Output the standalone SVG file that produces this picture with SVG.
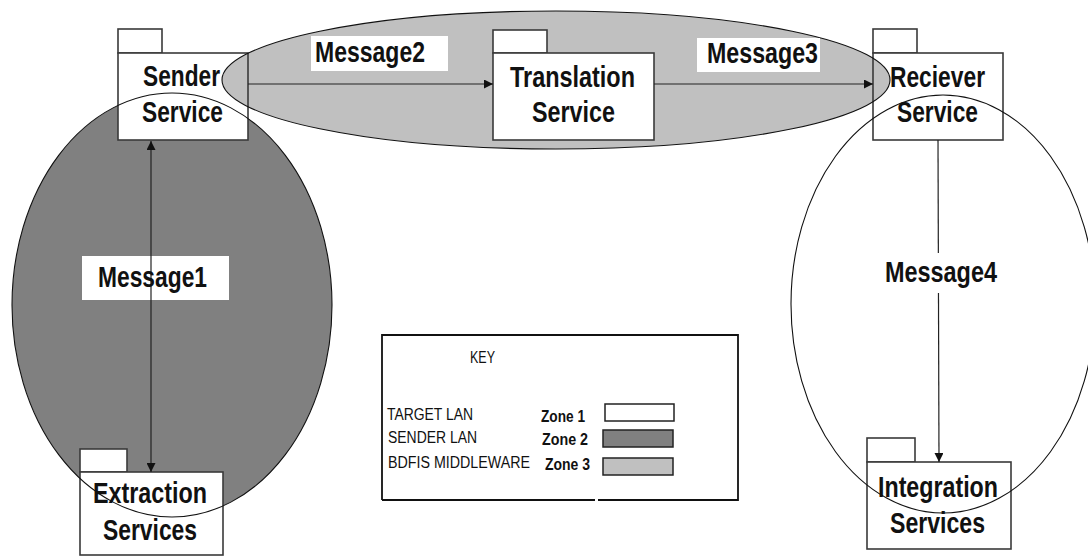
<svg xmlns="http://www.w3.org/2000/svg" width="1088" height="556" viewBox="0 0 1088 556">
  <style>
    .label { font-family: "Liberation Sans", Arial, sans-serif; font-weight: bold; font-size: 30px; fill: #111; }
    .keytext { font-family: "Liberation Sans", Arial, sans-serif; font-size: 16px; fill: #111; }
    .keybold { font-family: "Liberation Sans", Arial, sans-serif; font-weight: bold; font-size: 16px; fill: #111; }
    .box { fill: none; stroke: #3a3a3a; stroke-width: 1.6; }
    .boxfill { fill: #fff; stroke: none; }
    .tab { fill: #fff; stroke: #3a3a3a; stroke-width: 1.6; }
    .zone-line { fill: none; stroke: #111; stroke-width: 1.1; }
    .conn { fill: none; stroke: #222; stroke-width: 1.2; }
    .tagbg { fill: #fff; stroke: none; }
  </style>
  <defs>
    <marker id="arrow" viewBox="0 0 10 10" refX="10" refY="5" markerWidth="9" markerHeight="9" markerUnits="userSpaceOnUse" orient="auto-start-reverse">
      <path d="M0,0 L10,5 L0,10 z" fill="#111"/>
    </marker>
    <!-- everything except the middleware zone, so its grey shows inside boxes it overlaps -->
    <mask id="outside-zone3" maskUnits="userSpaceOnUse" x="0" y="0" width="1088" height="556">
      <rect x="0" y="0" width="1088" height="556" fill="#fff"/>
      <ellipse cx="556" cy="80" rx="334" ry="69" fill="#000"/>
    </mask>
  </defs>

  <rect x="0" y="0" width="1088" height="556" fill="#fff"/>

  <!-- zone fills -->
  <g id="zone-fills">
    <ellipse id="zone2-fill" cx="172" cy="305" rx="160" ry="212" fill="#808080"/>
    <ellipse id="zone1-fill" cx="943" cy="304" rx="152" ry="209" fill="#fff"/>
    <ellipse id="zone3-fill" cx="556" cy="80" rx="334" ry="69" fill="#c0c0c0"/>
  </g>

  <!-- packages -->
  <g id="sender-service">
    <rect class="tab" x="118" y="29" width="44" height="24"/>
    <rect class="boxfill" x="118" y="53" width="130" height="87" mask="url(#outside-zone3)"/>
    <rect class="box" x="118" y="53" width="130" height="87"/>
    <text class="label" x="143" y="86" textLength="77" lengthAdjust="spacingAndGlyphs">Sender</text>
    <text class="label" x="142" y="122" textLength="81" lengthAdjust="spacingAndGlyphs">Service</text>
  </g>

  <g id="translation-service">
    <rect class="tab" x="493" y="30" width="54" height="23"/>
    <rect class="boxfill" x="493" y="53" width="161" height="87"/>
    <rect class="box" x="493" y="53" width="161" height="87"/>
    <text class="label" x="510" y="87" textLength="125" lengthAdjust="spacingAndGlyphs">Translation</text>
    <text class="label" x="532" y="122" textLength="83" lengthAdjust="spacingAndGlyphs">Service</text>
  </g>

  <g id="reciever-service">
    <rect class="tab" x="873" y="29" width="44" height="24"/>
    <rect class="boxfill" x="873" y="53" width="130" height="87" mask="url(#outside-zone3)"/>
    <rect class="box" x="873" y="53" width="130" height="87"/>
    <text class="label" x="890" y="87" textLength="95" lengthAdjust="spacingAndGlyphs">Reciever</text>
    <text class="label" x="897" y="122" textLength="81" lengthAdjust="spacingAndGlyphs">Service</text>
  </g>

  <g id="extraction-services">
    <rect class="tab" x="80" y="449" width="47" height="23"/>
    <rect class="boxfill" x="80" y="472" width="143" height="83"/>
    <rect class="box" x="80" y="472" width="143" height="83"/>
    <text class="label" x="93" y="503" textLength="114" lengthAdjust="spacingAndGlyphs">Extraction</text>
    <text class="label" x="103" y="540" textLength="94" lengthAdjust="spacingAndGlyphs">Services</text>
  </g>

  <g id="integration-services">
    <rect class="tab" x="867" y="438" width="48" height="24"/>
    <rect class="boxfill" x="867" y="462" width="144" height="87"/>
    <rect class="box" x="867" y="462" width="144" height="87"/>
    <text class="label" x="878" y="497" textLength="120" lengthAdjust="spacingAndGlyphs">Integration</text>
    <text class="label" x="890" y="533" textLength="95" lengthAdjust="spacingAndGlyphs">Services</text>
  </g>

  <!-- zone outlines drawn over the packages -->
  <g id="zone-outlines">
    <ellipse class="zone-line" cx="172" cy="305" rx="160" ry="212"/>
    <ellipse class="zone-line" cx="943" cy="304" rx="152" ry="209"/>
    <ellipse class="zone-line" cx="556" cy="80" rx="334" ry="69"/>
  </g>

  <!-- messages -->
  <g id="connectors">
    <rect class="tagbg" x="82" y="256" width="147" height="44"/>
    <rect class="tagbg" x="311" y="36" width="137" height="35"/>
    <rect class="tagbg" x="697" y="38" width="123" height="34"/>

    <line class="conn" x1="151" y1="141" x2="151" y2="472" marker-start="url(#arrow)" marker-end="url(#arrow)"/>
    <line class="conn" x1="248" y1="84" x2="493" y2="84" marker-end="url(#arrow)"/>
    <line class="conn" x1="654" y1="84" x2="873" y2="84" marker-end="url(#arrow)"/>
    <line class="conn" x1="938" y1="140" x2="939" y2="462" marker-end="url(#arrow)"/>

    <rect class="tagbg" x="882" y="253" width="118" height="40"/>

    <text class="label" x="98" y="287" textLength="109" lengthAdjust="spacingAndGlyphs">Message1</text>
    <text class="label" x="315" y="62" textLength="110" lengthAdjust="spacingAndGlyphs">Message2</text>
    <text class="label" x="707" y="63" textLength="111" lengthAdjust="spacingAndGlyphs">Message3</text>
    <text class="label" x="885" y="282" textLength="112" lengthAdjust="spacingAndGlyphs">Message4</text>
  </g>

  <!-- legend -->
  <g id="key">
    <path d="M382,500 L382,335 L738,335 L738,500 L598,500 M595,500 L382,500" fill="none" stroke="#111" stroke-width="1.8"/>
    <text class="keytext" x="470" y="363" textLength="25" lengthAdjust="spacingAndGlyphs" font-size="15">KEY</text>
    <text class="keytext" x="387" y="420" textLength="86" lengthAdjust="spacingAndGlyphs">TARGET LAN</text>
    <text class="keytext" x="388" y="443" textLength="89" lengthAdjust="spacingAndGlyphs">SENDER LAN</text>
    <text class="keytext" x="388" y="468" textLength="142" lengthAdjust="spacingAndGlyphs">BDFIS MIDDLEWARE</text>
    <text class="keybold" x="541" y="422" textLength="44" lengthAdjust="spacingAndGlyphs">Zone 1</text>
    <text class="keybold" x="542" y="445" textLength="46" lengthAdjust="spacingAndGlyphs">Zone 2</text>
    <text class="keybold" x="545" y="470" textLength="45" lengthAdjust="spacingAndGlyphs">Zone 3</text>
    <rect x="605" y="404" width="69" height="17" fill="#fff" stroke="#222" stroke-width="1.5"/>
    <rect x="603" y="430" width="70" height="17" fill="#808080" stroke="#222" stroke-width="1.5"/>
    <rect x="603" y="458" width="70" height="17" fill="#c0c0c0" stroke="#222" stroke-width="1.5"/>
  </g>
</svg>
